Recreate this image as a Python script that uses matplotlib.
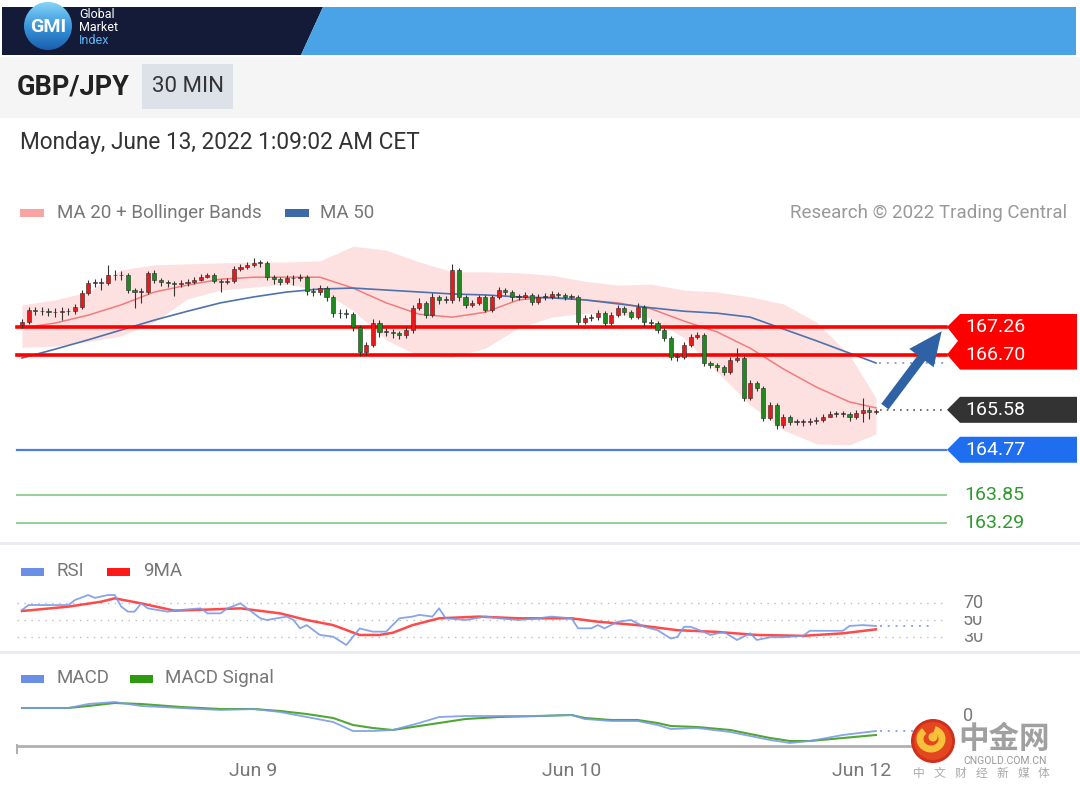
import numpy as np
import matplotlib
matplotlib.use('Agg')
import matplotlib.pyplot as plt
from matplotlib.patches import Polygon, Rectangle, Circle, FancyArrowPatch, Arc
from matplotlib.colors import LinearSegmentedColormap

plt.rcParams['font.family'] = ['Roboto', 'DejaVu Sans']

# ---------------- data ----------------
opens = [167.30, 167.36, 167.60, 167.58, 167.58, 167.56, 167.56, 167.58, 167.58, 167.67,
         167.95, 168.15, 168.15, 168.15, 168.31, 168.31, 168.31, 168.01, 167.97, 167.97,
         168.36, 168.21, 168.17, 168.15, 168.13, 168.15, 168.17, 168.21, 168.27, 168.31,
         168.19, 168.17, 168.19, 168.44, 168.48, 168.52, 168.56, 168.56, 168.27, 168.23,
         168.17, 168.25, 168.25, 168.27, 167.99, 167.97, 168.05, 167.87, 167.54, 167.54,
         167.52, 167.26, 166.75, 166.89, 167.34, 167.16, 167.16, 167.14, 167.10, 167.20,
         167.65, 167.75, 167.50, 167.87, 167.81, 167.81, 168.42, 167.87, 167.71, 167.75,
         167.87, 167.60, 167.87, 168.01, 167.97, 167.87, 167.87, 167.91, 167.77, 167.87,
         167.87, 167.93, 167.91, 167.87, 167.87, 167.36, 167.44, 167.46, 167.54, 167.34,
         167.50, 167.65, 167.56, 167.46, 167.67, 167.36, 167.34, 167.20, 167.04, 166.65,
         166.65, 166.89, 167.06, 167.10, 166.53, 166.49, 166.45, 166.35, 166.59, 166.63,
         165.82, 166.12, 166.02, 165.41, 165.68, 165.27, 165.43, 165.33, 165.33, 165.33,
         165.35, 165.37, 165.43, 165.50, 165.50, 165.50, 165.43, 165.52, 165.58, 165.54]
closes = [167.36, 167.60, 167.58, 167.58, 167.56, 167.56, 167.58, 167.58, 167.67, 167.95,
          168.15, 168.15, 168.15, 168.31, 168.31, 168.31, 168.01, 167.97, 167.97, 168.36,
          168.21, 168.17, 168.15, 168.13, 168.15, 168.17, 168.21, 168.27, 168.31, 168.19,
          168.17, 168.19, 168.44, 168.48, 168.52, 168.56, 168.56, 168.27, 168.23, 168.17,
          168.25, 168.25, 168.27, 167.99, 167.97, 168.05, 167.87, 167.54, 167.54, 167.52,
          167.26, 166.75, 166.89, 167.34, 167.16, 167.16, 167.14, 167.10, 167.20, 167.65,
          167.75, 167.50, 167.87, 167.81, 167.81, 168.42, 167.87, 167.71, 167.75, 167.87,
          167.60, 167.87, 168.01, 167.97, 167.87, 167.87, 167.91, 167.77, 167.87, 167.87,
          167.93, 167.91, 167.87, 167.87, 167.36, 167.44, 167.46, 167.54, 167.34, 167.50,
          167.65, 167.56, 167.46, 167.67, 167.36, 167.34, 167.20, 167.04, 166.65, 166.65,
          166.89, 167.06, 167.10, 166.53, 166.49, 166.45, 166.35, 166.59, 166.63, 165.82,
          166.12, 166.02, 165.41, 165.68, 165.27, 165.43, 165.33, 165.33, 165.33, 165.35,
          165.37, 165.43, 165.50, 165.50, 165.50, 165.43, 165.52, 165.58, 165.54, 165.56]
highs = [167.42, 167.66, 167.66, 167.66, 167.64, 167.64, 167.66, 167.64, 167.73, 168.01,
         168.21, 168.23, 168.25, 168.52, 168.42, 168.40, 168.35, 168.05, 168.05, 168.40,
         168.42, 168.25, 168.21, 168.19, 168.21, 168.23, 168.27, 168.33, 168.36, 168.35,
         168.23, 168.25, 168.50, 168.54, 168.58, 168.66, 168.62, 168.60, 168.31, 168.27,
         168.31, 168.31, 168.33, 168.31, 168.05, 168.11, 168.09, 167.91, 167.62, 167.62,
         167.56, 167.30, 166.95, 167.42, 167.40, 167.24, 167.22, 167.18, 167.26, 167.71,
         167.85, 167.79, 167.95, 167.91, 167.89, 168.54, 168.46, 167.91, 167.81, 167.91,
         167.91, 167.91, 168.07, 168.05, 168.01, 167.93, 167.97, 167.95, 167.93, 167.95,
         167.99, 167.97, 167.95, 167.93, 167.91, 167.50, 167.52, 167.60, 167.58, 167.56,
         167.71, 167.69, 167.60, 167.75, 167.71, 167.42, 167.38, 167.24, 167.08, 166.73,
         166.95, 167.12, 167.16, 167.14, 166.57, 166.53, 166.49, 166.65, 166.83, 166.67,
         166.18, 166.16, 166.06, 165.74, 165.72, 165.49, 165.47, 165.39, 165.39, 165.41,
         165.43, 165.49, 165.56, 165.56, 165.56, 165.54, 165.58, 165.82, 165.64, 165.60]
lows = [167.24, 167.32, 167.50, 167.50, 167.48, 167.46, 167.40, 167.50, 167.52, 167.63,
        167.91, 168.07, 168.01, 168.11, 168.21, 168.21, 167.95, 167.65, 167.75, 167.93,
        168.15, 168.09, 168.07, 167.89, 168.07, 168.09, 168.13, 168.19, 168.25, 168.15,
        167.97, 168.13, 168.15, 168.40, 168.44, 168.48, 168.48, 168.21, 168.13, 168.11,
        168.13, 168.11, 168.19, 167.91, 167.89, 167.91, 167.79, 167.46, 167.44, 167.44,
        167.18, 166.67, 166.69, 166.85, 167.06, 167.08, 167.04, 167.02, 167.04, 167.14,
        167.61, 167.44, 167.46, 167.73, 167.75, 167.75, 167.79, 167.65, 167.67, 167.71,
        167.56, 167.56, 167.83, 167.91, 167.79, 167.81, 167.83, 167.71, 167.73, 167.81,
        167.83, 167.85, 167.81, 167.83, 167.30, 167.32, 167.38, 167.40, 167.28, 167.30,
        167.46, 167.50, 167.42, 167.42, 167.28, 167.26, 167.14, 166.98, 166.59, 166.57,
        166.61, 166.85, 167.02, 166.47, 166.43, 166.37, 166.29, 166.31, 166.55, 165.76,
        165.78, 165.96, 165.35, 165.37, 165.19, 165.21, 165.27, 165.27, 165.25, 165.27,
        165.29, 165.33, 165.44, 165.44, 165.44, 165.35, 165.39, 165.33, 165.40, 165.50]

band_idx = [0, 5, 10, 15, 20, 25, 30, 35, 40, 45, 50, 55, 60, 65, 70, 75, 80, 85, 90, 95,
            100, 105, 110, 115, 120, 125, 129]
ma20 = [167.24, 167.34, 167.50, 167.71, 167.97, 168.11, 168.23, 168.27, 168.27, 168.27,
        168.05, 167.75, 167.52, 167.46, 167.56, 167.81, 167.87, 167.81, 167.75, 167.63,
        167.38, 167.16, 166.83, 166.41, 166.04, 165.74, 165.62]
bb_upper = [167.71, 167.81, 167.97, 168.42, 168.52, 168.54, 168.56, 168.58, 168.58, 168.60,
            168.90, 168.82, 168.58, 168.38, 168.38, 168.36, 168.31, 168.19, 168.11, 168.13,
            168.01, 167.97, 167.87, 167.73, 167.36, 166.69, 165.82]
bb_lower = [166.85, 166.87, 166.96, 167.08, 167.36, 167.83, 168.01, 168.07, 168.13, 168.01,
            167.60, 167.00, 166.67, 166.65, 166.83, 167.24, 167.46, 167.54, 167.52, 167.44,
            167.04, 166.35, 165.68, 165.17, 164.89, 164.87, 165.09]
ma50 = [166.63, 166.81, 167.00, 167.20, 167.40, 167.58, 167.75, 167.87, 167.97, 168.03,
        168.05, 168.01, 167.97, 167.93, 167.91, 167.87, 167.85, 167.81, 167.73, 167.65,
        167.58, 167.54, 167.46, 167.22, 166.98, 166.73, 166.53]

resistance = [167.26, 166.70]
last_price = 165.58
support = 164.77
targets = [163.85, 163.29]

rsi_idx = [0, 1, 3, 7, 8, 10, 11, 13, 14, 15, 16, 17, 18, 19, 22, 24, 27, 28, 30, 31,
           33, 34, 36, 37, 40, 41, 42, 43, 45, 47, 49, 51, 53, 55, 57, 59, 60, 62, 63, 64,
           67, 70, 72, 75, 78, 80, 83, 84, 86, 87, 88, 90, 92, 94, 96, 98, 99, 100, 101, 103,
           104, 106, 108, 110, 111, 113, 115, 118, 119, 122, 124, 125, 127, 129]
rsi = [61.8, 67.6, 67.6, 67.6, 73.5, 79.4, 76.0, 79.4, 79.4, 65.7, 59.8, 59.8, 69.6, 63.7,
       59.8, 61.8, 63.7, 57.8, 57.8, 63.7, 69.6, 63.7, 52.0, 50.0, 54.0, 50.0, 40.2, 44.0,
       32.4, 30.4, 20.6, 40.0, 36.3, 36.3, 52.0, 54.0, 56.0, 54.0, 63.7, 52.0, 50.0, 54.0,
       52.0, 50.0, 52.0, 54.0, 52.0, 40.2, 40.2, 44.0, 40.2, 48.0, 50.0, 42.0, 38.0, 28.2,
       30.0, 42.0, 42.0, 36.0, 32.4, 36.0, 26.5, 34.3, 26.5, 29.7, 29.7, 31.4, 37.3, 37.3,
       37.3, 43.0, 44.0, 43.0]
rsi_ma_idx = [0, 7, 12, 14, 18, 23, 27, 33, 39, 43, 47, 51, 54, 56, 59, 63, 69, 75, 78, 83,
              87, 93, 99, 105, 111, 118, 124, 129]
rsi_ma = [60.6, 65.7, 71.6, 75.5, 69.6, 61.0, 62.0, 63.7, 57.8, 50.0, 44.0, 32.4, 32.4, 35.0,
          44.0, 52.0, 54.0, 52.0, 52.0, 52.0, 48.0, 44.0, 38.0, 36.0, 32.4, 31.4, 34.3, 39.0]
rsi_levels = [70, 50, 30]

macd_idx = [0, 7, 10, 14, 18, 24, 30, 35, 39, 43, 47, 50, 53, 56, 60, 63, 67, 72, 78, 83,
            85, 89, 93, 96, 98, 102, 107, 113, 116, 119, 124, 129]
macd = [0.08, 0.08, 0.12, 0.14, 0.10, 0.08, 0.06, 0.07, 0.04, -0.01, -0.06, -0.15, -0.15,
        -0.14, -0.07, -0.01, 0.00, 0.00, 0.00, 0.01, -0.03, -0.05, -0.05, -0.09, -0.13, -0.12,
        -0.16, -0.24, -0.27, -0.25, -0.19, -0.15]
macd_signal = [0.08, 0.08, 0.10, 0.13, 0.12, 0.09, 0.07, 0.07, 0.05, 0.02, -0.02, -0.09, -0.12,
               -0.14, -0.10, -0.07, -0.03, -0.01, 0.00, 0.01, -0.02, -0.04, -0.04, -0.07, -0.10,
               -0.11, -0.14, -0.22, -0.25, -0.25, -0.22, -0.19]

date_ticks = [34.9, 83.1, 126.9]
date_labels = ['Jun 9', 'Jun 10', 'Jun 12']

# ---------------- layout ----------------
W, H = 1080, 791
X0, DX = 22.0, 6.62            # pixel of first candle, pixels per candle
XL = (-X0 / DX, (W - X0) / DX)
LINE_END = (946 - X0) / DX     # where level lines end (data x)

fig = plt.figure(figsize=(W / 100, H / 100), dpi=100)
fig.patch.set_facecolor('white')

ov = fig.add_axes([0, 0, 1, 1], zorder=10)
ov.set_xlim(0, W)
ov.set_ylim(H, 0)
ov.axis('off')
ov.patch.set_alpha(0)

def panel(top, bottom):
    a = fig.add_axes([0, 1 - bottom / H, 1, (bottom - top) / H], zorder=2)
    a.set_xlim(*XL)
    a.axis('off')
    return a

ax = panel(230, 540)
PX_PER = 49.3
ax.set_ylim(167.26 - (540 - 327) / PX_PER, 167.26 + (327 - 230) / PX_PER)
ax_r = panel(590, 650)
ax_r.set_ylim(50 - 30 / 0.85, 50 + 30 / 0.85)
ax_m = panel(690, 750)
ax_m.set_ylim(-0.34, 0.26)

def to_px(axis, x, y):
    d = axis.transData.transform((x, y))
    return ov.transData.inverted().transform(d)

# ---------------- header ----------------
ov.add_patch(Polygon([(2, 7), (323, 7), (301, 55), (2, 55)], closed=True, color='#131b39', lw=0))
ov.add_patch(Polygon([(323, 7), (1076, 7), (1076, 55), (301, 55)], closed=True, color='#4aa3e6', lw=0))
logo = Circle((48, 26), 24, facecolor='none', edgecolor='none')
ov.add_patch(logo)
cmap = LinearSegmentedColormap.from_list('gmi', ['#86d4f6', '#3a97dc', '#1a5fae'])
im = ov.imshow(np.linspace(0, 1, 100).reshape(-1, 1), cmap=cmap, extent=(24, 72, 50, 2),
               aspect='auto', origin='upper', zorder=11)
im.set_clip_path(logo)
ov.set_xlim(0, W)
ov.set_ylim(H, 0)
ov.text(48, 27, 'GMI', color='white', fontsize=14, fontweight='bold', ha='center', va='center', zorder=12)
ov.text(79, 14, 'Global', color='white', fontsize=9, ha='left', va='center')
ov.text(79, 27.5, 'Market', color='white', fontsize=9, ha='left', va='center')
ov.text(79, 41, 'Index', color='#5fb4f2', fontsize=9, ha='left', va='center')

ov.add_patch(Rectangle((0, 57), W, 61, color='#f5f5f5', lw=0, zorder=1))
ov.text(17, 87, 'GBP/JPY', color='#222222', fontsize=19.5, fontweight='bold', ha='left', va='center')
ov.add_patch(Rectangle((142, 64), 91, 45, color='#dde1e8', lw=0, zorder=2))
ov.text(187.5, 87, '30 MIN', color='#333333', fontsize=16, ha='center', va='center', zorder=3)
ov.text(20, 143, 'Monday, June 13, 2022 1:09:02 AM CET', color='#333333', fontsize=16.3,
        ha='left', va='center')

# legend row
ov.add_patch(Rectangle((20, 209), 24, 8, color='#f9a3a3', lw=0))
ov.text(57, 213, 'MA 20 + Bollinger Bands', color='#777777', fontsize=13.5, ha='left', va='center')
ov.add_patch(Rectangle((285, 209), 24, 8, color='#3d69a6', lw=0))
ov.text(320, 213, 'MA 50', color='#777777', fontsize=13.5, ha='left', va='center')
ov.text(1067, 213, 'Research \u00a9 2022 Trading Central', color='#999999', fontsize=13.5,
        ha='right', va='center')

# ---------------- price panel ----------------
idx = np.arange(len(closes))
o = np.array(opens)
c = np.array(closes)
ax.fill_between(band_idx, bb_lower, bb_upper, color='#fde1e1', lw=0, zorder=1)
ax.plot(band_idx, ma20, color='#f37b7b', lw=1.1, zorder=2)
ax.plot(band_idx, ma50, color='#4d72ae', lw=1.2, zorder=2)

for lv in resistance:
    ax.axhline(lv, xmin=17 / W, xmax=946 / W, color='#ff0000', lw=2.6, zorder=3)
ax.axhline(support, xmin=17 / W, xmax=946 / W, color='#4a7fe0', lw=1.6, zorder=3)
for lv in targets:
    ax.axhline(lv, xmin=17 / W, xmax=946 / W, color='#96cd96', lw=1.4, zorder=3)

cols = np.where(c > o, '#e8191b', np.where(c < o, '#1e8a1e', '#444444'))
ax.vlines(idx, lows, highs, color='#333333', lw=0.8, zorder=4)
ax.bar(idx, np.maximum(np.abs(c - o), 0.014), bottom=np.minimum(o, c), width=0.62,
       color=cols, edgecolor='#2a2a2a', linewidth=0.4, zorder=5)

n = len(closes)
ax.plot([n - 0.4, LINE_END], [last_price, last_price], color='#555555', lw=1.2,
        ls=(0, (1, 3)), zorder=3)
ax.plot([n - 0.6, LINE_END], [ma50[-1], ma50[-1]], color='#8aa6d0', lw=1.4,
        ls=(0, (1, 3)), zorder=3)
arrow = FancyArrowPatch((n + 0.1, closes[-1] + 0.04), (LINE_END - 0.4, resistance[0] - 0.04),
                        arrowstyle='simple,head_length=1.1,head_width=1.0,tail_width=0.3',
                        mutation_scale=22, color='#2f62a5', lw=0, zorder=6)
ax.add_patch(arrow)

# level labels
y1 = to_px(ax, 0, resistance[0])[1]
y2 = to_px(ax, 0, resistance[1])[1]
ov.add_patch(Polygon([(1077, y1 - 13), (960, y1 - 13), (947, y1), (958, (y1 + y2) / 2),
                      (947, y2), (960, y2 + 15), (1077, y2 + 15)], closed=True,
                     color='#ff0000', lw=0))
for lv, yy in ((resistance[0], y1), (resistance[1], y2)):
    ov.text(965, yy, f'{lv:.2f}', color='white', fontsize=14, ha='left', va='center')

for lv, col in ((last_price, '#333333'), (support, '#1f6ef0')):
    yy = to_px(ax, 0, lv)[1]
    ov.add_patch(Polygon([(1077, yy - 13), (960, yy - 13), (947, yy), (960, yy + 13),
                          (1077, yy + 13)], closed=True, color=col, lw=0))
    ov.text(965, yy, f'{lv:.2f}', color='white', fontsize=14, ha='left', va='center')
for lv in targets:
    yy = to_px(ax, 0, lv)[1]
    ov.text(964, yy, f'{lv:.2f}', color='#2e9a2e', fontsize=14, ha='left', va='center')

# separators
ov.add_patch(Rectangle((0, 541.5), W, 3, color='#e9edf1', lw=0))
ov.add_patch(Rectangle((0, 651), W, 3, color='#e9edf1', lw=0))

# ---------------- RSI panel ----------------
ov.add_patch(Rectangle((21, 567.5), 23, 8, color='#6b8fe6', lw=0))
ov.text(56, 571, 'RSI', color='#777777', fontsize=13.5, ha='left', va='center')
ov.add_patch(Rectangle((107, 567.5), 23, 8, color='#ff1a1a', lw=0))
ov.text(143, 571, '9MA', color='#777777', fontsize=13.5, ha='left', va='center')

for lv in rsi_levels:
    ax_r.axhline(lv, xmin=17 / W, xmax=946 / W, color='#bdbdbd', lw=1.0, ls=(0, (1, 4)))
ax_r.plot(rsi_ma_idx, rsi_ma, color='#ff2a2a', lw=1.8, alpha=0.85, zorder=3)
ax_r.plot(rsi_idx, rsi, color='#7a9be8', lw=1.3, alpha=0.9, zorder=4)
ax_r.plot([n - 0.4, (932 - X0) / DX], [rsi[-1], rsi[-1]], color='#8aa6ea', lw=1.4,
          ls=(0, (1, 3)))
for k, lv in enumerate(sorted(rsi_levels)):
    yy = to_px(ax_r, 0, lv)[1]
    ov.text(963, yy, str(lv), color='#777777', fontsize=13, ha='left', va='center',
            zorder=12 + k, bbox=dict(facecolor='white', edgecolor='none', pad=3.0))

# ---------------- MACD panel ----------------
ov.add_patch(Rectangle((21, 674.5), 23, 8, color='#6b8fe6', lw=0))
ov.text(56, 678, 'MACD', color='#777777', fontsize=13.5, ha='left', va='center')
ov.add_patch(Rectangle((130, 674.5), 23, 8, color='#2e9a10', lw=0))
ov.text(165, 678, 'MACD Signal', color='#777777', fontsize=13.5, ha='left', va='center')

ax_m.plot(macd_idx, macd_signal, color='#3e9e1c', lw=1.5, alpha=0.9, zorder=3)
ax_m.plot(macd_idx, macd, color='#7a9be8', lw=1.3, alpha=0.9, zorder=4)
ax_m.plot([n - 0.4, (918 - X0) / DX], [macd[-1], macd[-1]], color='#8aa6ea', lw=1.4,
          ls=(0, (1, 3)))
ov.text(963, to_px(ax_m, 0, 0)[1], '0', color='#777777', fontsize=13, ha='left', va='center')

# x axis
ov.plot([16, 945], [746, 746], color='#b0b0b0', lw=2, solid_capstyle='butt')
ov.plot([16.5, 16.5], [745, 753], color='#b0b0b0', lw=1.5)
for t, lab in zip(date_ticks, date_labels):
    xp = to_px(ax_m, t, 0)[0]
    ov.text(xp, 771, lab, color='#777777', fontsize=14, ha='center', va='center')

# ---------------- watermark ----------------
ov.add_patch(Circle((933, 741), 22, color='#cf2f1b', lw=0, zorder=20))
ov.add_patch(Circle((933, 741), 19, color='#e4461f', lw=0, zorder=20))
ov.add_patch(Arc((931, 739), 22, 20, theta1=-70, theta2=230, color='#f7c23a', lw=5, zorder=21))
ov.add_patch(Circle((933, 737), 4.5, color='#f7c23a', lw=0, zorder=21))
ov.text(1004, 739, '中金网', family=['Noto Sans CJK SC', 'DejaVu Sans'], fontsize=22,
        fontweight='bold', color='#a0a0a0', ha='center', va='center', zorder=21)
ov.text(1005, 761, 'CNGOLD.COM.CN', color='#999999', fontsize=7.5, ha='center', va='center',
        zorder=21)
for k, ch in enumerate('中文财经新媒体'):
    ov.text(919 + k * 20.8, 773, ch, family=['Noto Sans CJK SC', 'DejaVu Sans'],
            fontsize=8.5, color='#aaaaaa', ha='center', va='center', zorder=21)

fig.savefig('out.png', dpi=100)
